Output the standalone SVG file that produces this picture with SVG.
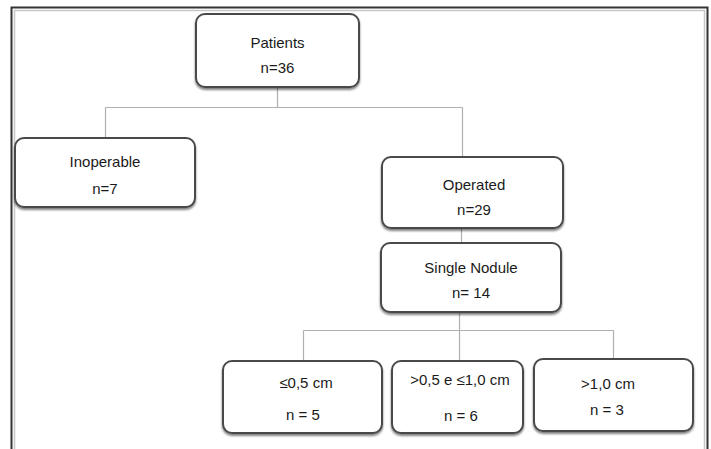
<svg xmlns="http://www.w3.org/2000/svg" width="711" height="449" viewBox="0 0 711 449">
<style>
.box{fill:#fff;stroke:#4a4a4a;stroke-width:2;filter:url(#sh)}
.t{font-family:"Liberation Sans",Arial,sans-serif;font-size:15px;fill:#1a1a1a;text-anchor:middle}
.c{stroke:#b0b0b0;stroke-width:1.2;fill:none}
.fd{stroke:#333;stroke-width:2;fill:none}
.fl{stroke:#c8c8c8;stroke-width:1.5;fill:none}
</style>
<defs>
<filter id="sh" x="-10%" y="-10%" width="120%" height="130%">
<feGaussianBlur in="SourceAlpha" stdDeviation="1"/>
<feOffset dx="0" dy="1.5" result="b"/>
<feComponentTransfer><feFuncA type="linear" slope="0.5"/></feComponentTransfer>
<feMerge><feMergeNode/><feMergeNode in="SourceGraphic"/></feMerge>
</filter>
</defs>
<rect width="711" height="449" fill="#fff"/>
<g id="frame">
<path class="fl" d="M14.5,449 V10.5 H705 M704.5,10.5 V449"/>
<path class="fd" d="M11.5,449 V7.5 H707.5 V449"/>
</g>
<g id="connectors">
<path class="c" d="M277.5,87 V107.5 M105.5,107.5 H462.5 M105.5,107.5 V138 M462.5,107.5 V157"/>
<path class="c" d="M461.5,228 V243"/>
<path class="c" d="M459.5,312 V330.5 M303.5,330.5 H613.5 M303.5,330.5 V361 M459.5,330.5 V361 M613.5,330.5 V359"/>
</g>
<g id="patients">
<rect class="box" x="196" y="14" width="163" height="73" rx="9"/>
<text class="t" x="277.5" y="48">Patients</text>
<text class="t" x="277.5" y="73">n=36</text>
</g>
<g id="inoperable">
<rect class="box" x="15" y="138" width="180" height="69" rx="9"/>
<text class="t" x="105" y="167">Inoperable</text>
<text class="t" x="105" y="194">n=7</text>
</g>
<g id="operated">
<rect class="box" x="382" y="157" width="181" height="71" rx="9"/>
<text class="t" x="474" y="190">Operated</text>
<text class="t" x="474" y="215">n=29</text>
</g>
<g id="single">
<rect class="box" x="381" y="243" width="180" height="69" rx="9"/>
<text class="t" x="471" y="273">Single Nodule</text>
<text class="t" x="471" y="298">n= 14</text>
</g>
<g id="small">
<rect class="box" x="223" y="361" width="159" height="72" rx="9"/>
<text class="t" x="306" y="388">≤0,5 cm</text>
<text class="t" x="303" y="420">n = 5</text>
</g>
<g id="medium">
<rect class="box" x="392" y="361" width="131" height="72" rx="9"/>
<text class="t" x="460" y="385">&gt;0,5 e ≤1,0 cm</text>
<text class="t" x="461" y="421">n = 6</text>
</g>
<g id="large">
<rect class="box" x="534" y="359" width="159" height="72" rx="9"/>
<text class="t" x="608" y="389">&gt;1,0 cm</text>
<text class="t" x="607" y="415">n = 3</text>
</g>
</svg>
